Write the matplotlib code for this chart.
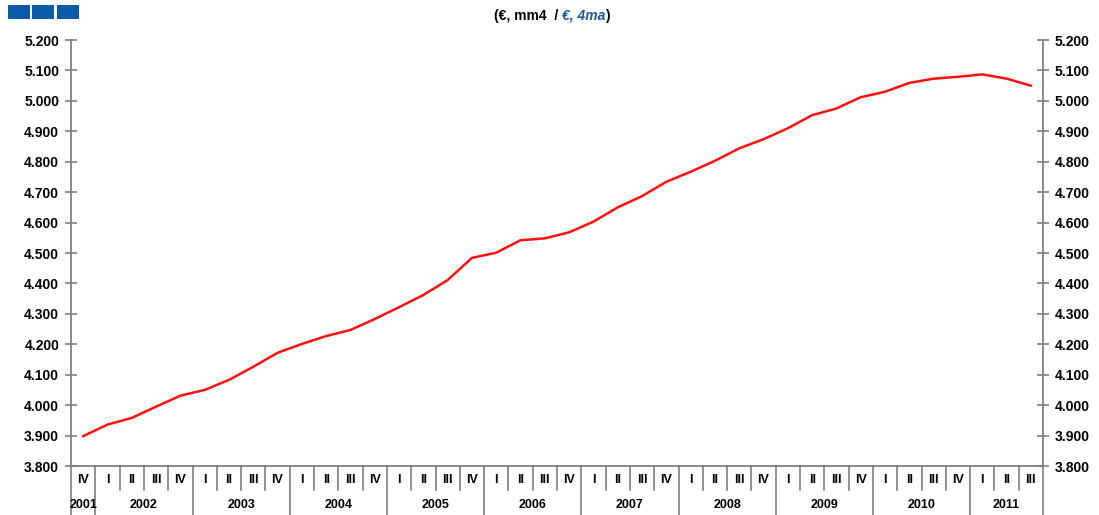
import matplotlib
matplotlib.use("Agg")
import matplotlib.pyplot as plt
import matplotlib.transforms as mtransforms
from matplotlib.patches import Rectangle
from matplotlib.ticker import FuncFormatter, MultipleLocator
import numpy as np

plt.rcParams['font.family'] = ['Liberation Sans', 'DejaVu Sans']

# quarterly data, 2001 IV .. 2011 III (euros)
quarters = ['IV',
            'I', 'II', 'III', 'IV',
            'I', 'II', 'III', 'IV',
            'I', 'II', 'III', 'IV',
            'I', 'II', 'III', 'IV',
            'I', 'II', 'III', 'IV',
            'I', 'II', 'III', 'IV',
            'I', 'II', 'III', 'IV',
            'I', 'II', 'III', 'IV',
            'I', 'II', 'III', 'IV',
            'I', 'II', 'III']
years = ['2001', '2002', '2003', '2004', '2005', '2006',
         '2007', '2008', '2009', '2010', '2011']
quarters_per_year = [1, 4, 4, 4, 4, 4, 4, 4, 4, 4, 3]
values = [3898, 3936, 3958, 3995, 4031, 4050, 4083, 4126, 4172, 4201,
          4227, 4247, 4283, 4322, 4362, 4411, 4484, 4501, 4542, 4548,
          4568, 4603, 4650, 4687, 4734, 4767, 4803, 4844, 4874, 4910,
          4953, 4975, 5012, 5030, 5059, 5073, 5079, 5087, 5073, 5050]

W, H = 1099, 515
fig = plt.figure(figsize=(W / 100, H / 100), dpi=100)
ax = fig.add_axes([71 / W, 1 - 466 / H, (1043 - 71) / W, 426 / H])

grey = '#7f7f7f'
n = len(values)
x = np.arange(n) + 0.5
ax.plot(x, values, color='#ff1010', linewidth=1.8, solid_joinstyle='round')

ax.set_xlim(0, n)
ax.set_ylim(3800, 5200)
ax.yaxis.set_major_locator(MultipleLocator(100))
ax.yaxis.set_major_formatter(FuncFormatter(lambda v, p: f"{int(round(v)):,}".replace(',', '.')))
ax.set_xticks([])
ax.tick_params(axis='y', direction='inout', length=9, width=1.2, color=grey,
               left=True, right=True, labelleft=True, labelright=True,
               labelsize=10, pad=4)
for lab in ax.get_yticklabels():
    lab.set_fontweight('bold')

ax.spines['top'].set_visible(False)
for s in ['left', 'right', 'bottom']:
    ax.spines[s].set_color(grey)
    ax.spines[s].set_linewidth(1.3)

# category axis: quarter separators, year separators reach the bottom
trans = mtransforms.blended_transform_factory(ax.transData, fig.transFigure)
y_axis = 1 - 466 / H
y_q = 1 - 490 / H
year_starts = np.cumsum([0] + quarters_per_year)
for i in range(n + 1):
    bottom = 0.0 if i in year_starts else y_q
    ax.plot([i, i], [y_axis, bottom], color=grey, linewidth=1.2,
            transform=trans, clip_on=False)

for i, q in enumerate(quarters):
    ax.text(i + 0.5, 1 - 480 / H, q, transform=trans, ha='center', va='center',
            fontsize=9, fontweight='bold')

for k, yr in enumerate(years):
    mid = (year_starts[k] + year_starts[k + 1]) / 2
    ax.text(mid, 1 - 505 / H, yr, transform=trans, ha='center', va='center',
            fontsize=9, fontweight='bold')

# title, three pieces placed one after another
t1 = fig.text(494 / W, 1 - 16 / H, '(€, mm4  / ', ha='left', va='center',
              fontsize=10, fontweight='bold')
t2 = plt.annotate('€, 4ma', xy=(1, 0), xycoords=t1, ha='left', va='bottom',
                  fontsize=10, fontweight='bold', style='italic', color='#1f5a96')
plt.annotate(')', xy=(1, 0), xycoords=t2, ha='left', va='bottom',
             fontsize=10, fontweight='bold')

# logo blocks top left
for x0, x1 in [(8, 30), (32, 54), (57, 79)]:
    fig.patches.append(Rectangle((x0 / W, 1 - 19 / H), (x1 - x0) / W, 14 / H,
                                 transform=fig.transFigure, facecolor='#0b5ca8',
                                 edgecolor='none'))

fig.savefig('out.png', dpi=100, facecolor='white')
